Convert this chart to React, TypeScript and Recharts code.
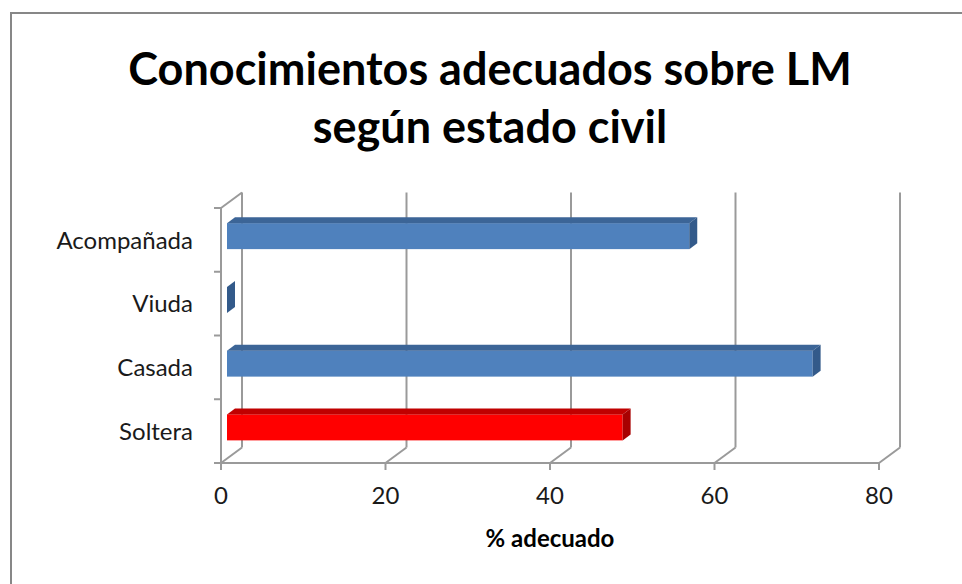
import { BarChart, Bar, XAxis, YAxis, CartesianGrid, Label } from "recharts";

// estado civil, top to bottom as shown
const CATEGORIES = ["Acompañada", "Viuda", "Casada", "Soltera"];
const ADEQUATE_PCT = [56.2, 0, 71.2, 48.1];
const X_TICKS = [0, 20, 40, 60, 80];
const HIGHLIGHT = "Soltera";

const data = CATEGORIES.map((estado, i) => ({ estado, pct: ADEQUATE_PCT[i] }));

const FONT = "Lato, 'Open Sans', sans-serif";
const GRID = "#9a9a9a";
const WALL = { dx: 21, dy: -15.5 };
const BAR_FRONT = { dx: 6, dy: -4 };
const BAR_DEPTH = { dx: 8, dy: -6 };

const PALETTE = {
  normal: { front: "#4f81bd", top: "#3c6597", side: "#335a8a" },
  highlight: { front: "#ff0000", top: "#c00000", side: "#a80000" },
};

function BackWallLine(props: any) {
  const { x1, y1, y2, index } = props;
  const bx = x1 + WALL.dx;
  return (
    <g key={`wall-${index}`}>
      <line x1={x1} y1={y2} x2={bx} y2={y2 + WALL.dy} stroke={GRID} strokeWidth={2} />
      <line x1={bx} y1={y1 + WALL.dy} x2={bx} y2={y2 + WALL.dy} stroke={GRID} strokeWidth={2} />
      {index === 0 && (
        <line x1={x1} y1={y1} x2={bx} y2={y1 + WALL.dy} stroke={GRID} strokeWidth={2} />
      )}
    </g>
  );
}

function Bar3D(props: any) {
  const { x, y, width, height, payload } = props;
  const c = payload.estado === HIGHLIGHT ? PALETTE.highlight : PALETTE.normal;
  const w = Math.max(0, width || 0);
  const fx = x + BAR_FRONT.dx;
  const fy = y + BAR_FRONT.dy;
  const { dx, dy } = BAR_DEPTH;
  return (
    <g>
      {w > 0 && <rect x={fx} y={fy} width={w} height={height} fill={c.front} />}
      <polygon
        points={`${fx},${fy} ${fx + w},${fy} ${fx + w + dx},${fy + dy} ${fx + dx},${fy + dy}`}
        fill={c.top}
      />
      <polygon
        points={`${fx + w},${fy} ${fx + w + dx},${fy + dy} ${fx + w + dx},${fy + height + dy} ${fx + w},${fy + height}`}
        fill={c.side}
      />
    </g>
  );
}

function CategoryTick(props: any) {
  const { x, y, payload, index } = props;
  const half = payload?.offset ?? 31.875;
  const axisX = x + 28;
  return (
    <g>
      <line x1={axisX - 7} y1={y - half} x2={axisX} y2={y - half} stroke={GRID} strokeWidth={2} />
      {index === CATEGORIES.length - 1 && (
        <line x1={axisX - 7} y1={y + half} x2={axisX} y2={y + half} stroke={GRID} strokeWidth={2} />
      )}
      <text x={x} y={y} dy="0.36em" textAnchor="end" fontSize={24} fill="#1a1a1a" fontFamily={FONT}>
        {payload.value}
      </text>
    </g>
  );
}

export default function App() {
  return (
    <div
      style={{
        position: "absolute",
        left: 0,
        top: 0,
        width: 962,
        height: 584,
        overflow: "hidden",
        background: "#fff",
        fontFamily: FONT,
      }}
    >
      <div
        style={{
          position: "absolute",
          left: 10,
          top: 12,
          width: 990,
          height: 620,
          borderTop: "2px solid #878787",
          borderLeft: "2px solid #878787",
        }}
      />
      <div
        style={{
          position: "absolute",
          left: 10,
          top: 39,
          width: 960,
          textAlign: "center",
          fontSize: 45,
          fontWeight: 700,
          lineHeight: "58px",
          color: "#000",
        }}
      >
        Conocimientos adecuados sobre LM
        <br />
        según estado civil
      </div>
      <div style={{ position: "absolute", left: 0, top: 0 }}>
        <BarChart
          width={962}
          height={584}
          data={data}
          layout="vertical"
          barCategoryGap="30%"
          margin={{ top: 208, right: 83, bottom: 31, left: 71 }}
        >
          <CartesianGrid horizontal={false} vertical={BackWallLine} />
          <XAxis
            type="number"
            domain={[0, 80]}
            ticks={X_TICKS}
            height={90}
            axisLine={{ stroke: GRID, strokeWidth: 2 }}
            tickLine={{ stroke: GRID, strokeWidth: 2 }}
            tickSize={7}
            tickMargin={17}
            tick={{ fontSize: 24, fill: "#1a1a1a", fontFamily: FONT }}
          >
            <Label
              value="% adecuado"
              position="insideBottom"
              offset={6}
              style={{ fontSize: 24, fontWeight: 700, fill: "#000", fontFamily: FONT }}
            />
          </XAxis>
          <YAxis
            type="category"
            dataKey="estado"
            width={150}
            axisLine={{ stroke: GRID, strokeWidth: 2 }}
            tickLine={false}
            tickSize={0}
            tickMargin={28}
            tick={CategoryTick}
            interval={0}
          />
          <Bar dataKey="pct" shape={Bar3D} isAnimationActive={false} />
        </BarChart>
      </div>
    </div>
  );
}
